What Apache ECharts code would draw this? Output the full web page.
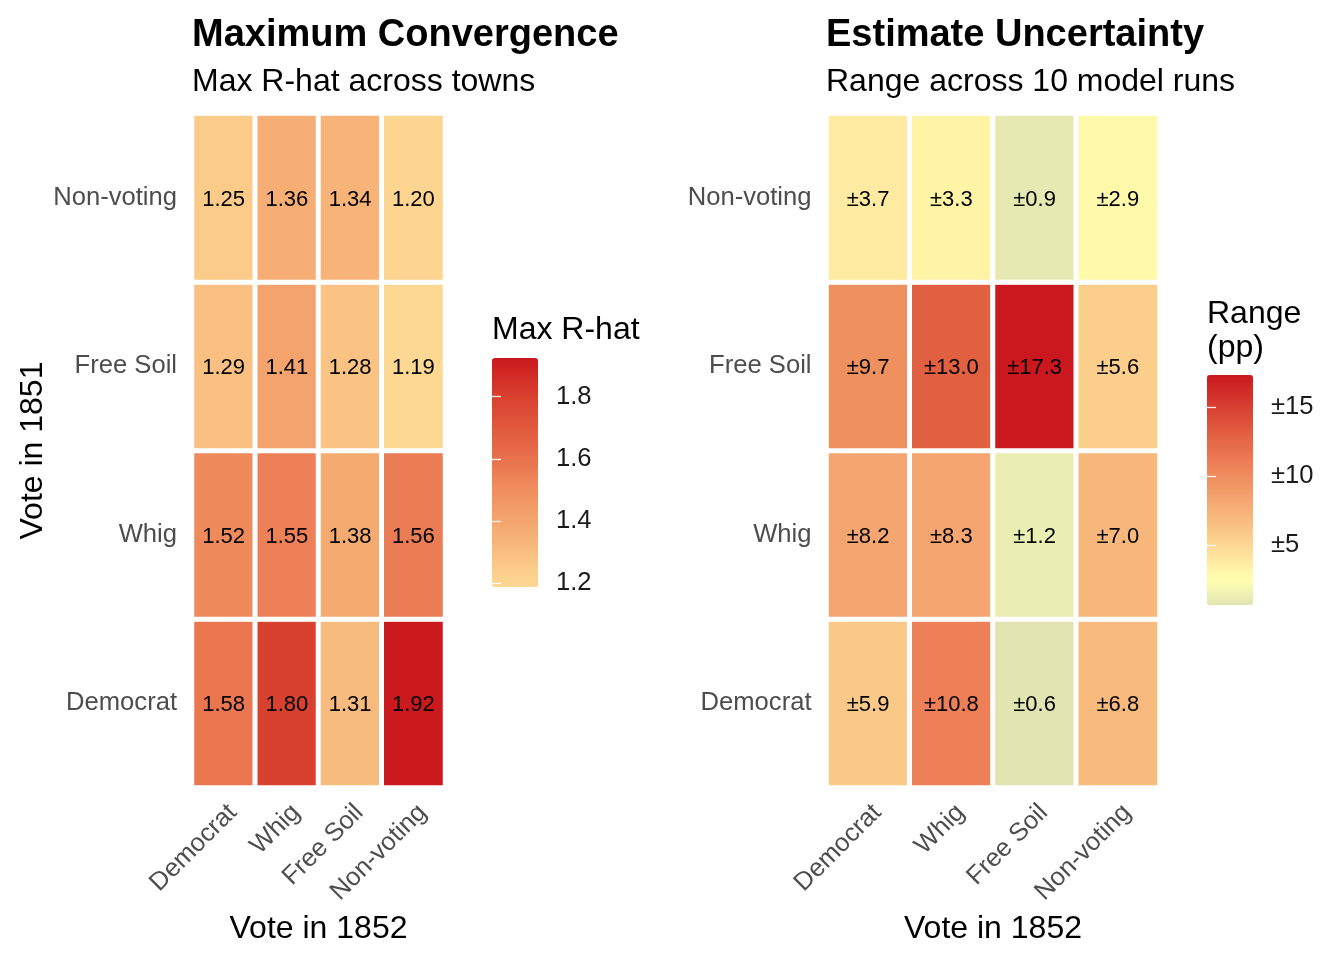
<!DOCTYPE html>
<html><head><meta charset="utf-8">
<script src="https://cdn.jsdelivr.net/npm/echarts@6/dist/echarts.min.js"></script>
<style>html,body{margin:0;padding:0;background:#fff}#c{width:1344px;height:960px}</style>
</head><body><div id="c"></div>
<script>
// ---- data ----
const cols1852 = ['Democrat', 'Whig', 'Free Soil', 'Non-voting'];
const rows1851 = ['Democrat', 'Whig', 'Free Soil', 'Non-voting'];
// Max R-hat, one array per 1851 row (columns follow cols1852)
const rhatDemocrat = [1.58, 1.80, 1.31, 1.92];
const rhatWhig = [1.52, 1.55, 1.38, 1.56];
const rhatFreeSoil = [1.29, 1.41, 1.28, 1.19];
const rhatNonVoting = [1.25, 1.36, 1.34, 1.20];
// Range across 10 model runs (pp)
const rangeDemocrat = [5.9, 10.8, 0.6, 6.8];
const rangeWhig = [8.2, 8.3, 1.2, 7.0];
const rangeFreeSoil = [9.7, 13.0, 17.3, 5.6];
const rangeNonVoting = [3.7, 3.3, 0.9, 2.9];
const rhatTicks = [1.2, 1.4, 1.6, 1.8];
const rangeTicks = [5, 10, 15];
const rhatLimits = [1.188, 1.924];
const rangeLimits = [0.64, 17.3];

const rhatRows = [rhatDemocrat, rhatWhig, rhatFreeSoil, rhatNonVoting];
const rangeRows = [rangeDemocrat, rangeWhig, rangeFreeSoil, rangeNonVoting];
function toCells(rows) {
  const out = [];
  rows.forEach((row, r) => row.forEach((v, c) => out.push([c, r, v])));
  return out;
}

// ---- colour ramps (style) ----
const leftAnchors = [[1.188,'#FDD893'],[1.25,'#FBCB8A'],[1.36,'#F6AE74'],[1.41,'#F3A36B'],[1.52,'#EF8A5C'],[1.58,'#EA764F'],[1.80,'#D9412F'],[1.924,'#CA191D']];
const rightAnchors = [[0.64,'#E2E5B1'],[1.2,'#EAEEB2'],[2.4,'#FFFEB0'],[2.9,'#FFFAAB'],[3.3,'#FFF3A6'],[3.7,'#FEEBA1'],[5.6,'#FCCE8B'],[5.9,'#FAC988'],[6.8,'#F9BA7D'],[8.2,'#F5A670'],[9.7,'#EF905F'],[10.8,'#EE8058'],[13.0,'#E26042'],[17.3,'#CA181E']];
function hex2rgb(h){return [parseInt(h.slice(1,3),16),parseInt(h.slice(3,5),16),parseInt(h.slice(5,7),16)];}
function ramp(anchors, lo, hi, n){
  const res=[];
  for(let i=0;i<n;i++){
    const v=lo+(hi-lo)*i/(n-1);
    let k=0; while(k<anchors.length-2 && v>anchors[k+1][0]) k++;
    const a=anchors[k], b=anchors[k+1];
    let t=(v-a[0])/(b[0]-a[0]); t=Math.max(0,Math.min(1,t));
    const ca=hex2rgb(a[1]), cb=hex2rgb(b[1]);
    const c=ca.map((x,j)=>Math.round(x+(cb[j]-x)*t));
    res.push('rgb('+c.join(',')+')');
  }
  return res;
}

const FF = '"Liberation Sans", Arial, Helvetica, sans-serif';
const chart = echarts.init(document.getElementById('c'), null, {renderer:'canvas'});

function catX(gi){
  return {
    gridIndex: gi, type: 'category', data: cols1852,
    axisLine:{show:false}, axisTick:{show:false}, splitLine:{show:false},
    axisLabel:{rotate:45, fontSize:25.6, color:'#4D4D4D', fontFamily:FF, margin:12, interval:0, verticalAlign:'top'},
    name:'Vote in 1852', nameLocation:'middle', nameGap:126,
    nameTextStyle:{fontSize:32, color:'#000', fontFamily:FF}
  };
}
function catY(gi, withName){
  const o = {
    gridIndex: gi, type: 'category', data: rows1851,
    axisLine:{show:false}, axisTick:{show:false}, splitLine:{show:false},
    axisLabel:{fontSize:25.6, color:'#4D4D4D', fontFamily:FF, margin:15, padding:[5,0,0,0]}
  };
  if (withName) Object.assign(o, {name:'Vote in 1851', nameLocation:'middle', nameRotate:90, nameGap:142,
    nameTextStyle:{fontSize:32, color:'#000', fontFamily:FF}});
  return o;
}
function legendY(gi, lim, ticks, pos, fmt){
  return {
    gridIndex: gi, type:'value', min: lim[0], max: lim[1], position: pos, z: 10,
    axisLine:{show:false}, splitLine:{show:false},
    axisTick:{show:true, inside:true, length:9, customValues: ticks, lineStyle:{color:'#fff', width:1.3, opacity:0.9}},
    axisLabel:{show: pos==='right', customValues: ticks, inside:false, margin:18, fontSize:25.6, color:'#1A1A1A', fontFamily:FF, formatter: fmt, padding:[4,0,0,0]}
  };
}
const T = (text, left, top, size, bold, extra) => Object.assign({text, left, top, padding:0,
  textStyle:Object.assign({fontSize:size, fontWeight: bold ? 'bold' : 'normal', color:'#000', fontFamily:FF}, extra || {})});

const option = {
  backgroundColor:'#fff',
  animation:false,
  title:[
    T('Maximum Convergence', 192, 17, 38, true),
    T('Max R-hat across towns', 192, 66, 32, false),
    T('Estimate Uncertainty', 826, 17, 38, true),
    T('Range across 10 model runs', 826, 66, 32, false),
    T('Max R-hat', 492, 314, 32, false),
    T('Range\n(pp)', 1207, 297, 32, false, {lineHeight:34})
  ],
  grid:[
    {left:192, top:113.5, width:253, height:674},
    {left:826.5, top:113.5, width:333, height:674},
    {left:492, top:358, width:46, height:229},
    {left:1207, top:375, width:46, height:230}
  ],
  xAxis:[
    catX(0), catX(1),
    {gridIndex:2, type:'value', show:false},
    {gridIndex:3, type:'value', show:false}
  ],
  yAxis:[
    catY(0, true), catY(1, false),
    legendY(2, rhatLimits, rhatTicks, 'right', v => v.toFixed(1)),
    legendY(2, rhatLimits, rhatTicks, 'left', v => v.toFixed(1)),
    legendY(3, rangeLimits, rangeTicks, 'right', v => '±' + v),
    legendY(3, rangeLimits, rangeTicks, 'left', v => '±' + v)
  ],
  visualMap:[
    {type:'continuous', seriesIndex:0, min:rhatLimits[0], max:rhatLimits[1], calculable:false, hoverLink:false,
     orient:'vertical', left:492, top:358, itemWidth:46, itemHeight:229, padding:0, textGap:0,
     inRange:{color: ramp(leftAnchors, rhatLimits[0], rhatLimits[1], 60)}},
    {type:'continuous', seriesIndex:1, min:rangeLimits[0], max:rangeLimits[1], calculable:false, hoverLink:false,
     orient:'vertical', left:1207, top:375, itemWidth:46, itemHeight:230, padding:0, textGap:0,
     inRange:{color: ramp(rightAnchors, rangeLimits[0], rangeLimits[1], 80)}}
  ],
  series:[
    {type:'heatmap', xAxisIndex:0, yAxisIndex:0, data: toCells(rhatRows),
     itemStyle:{borderColor:'#fff', borderWidth:5},
     label:{show:true, color:'#000', fontSize:22, fontFamily:FF, offset:[0,2], formatter: p => p.value[2].toFixed(2)},
     emphasis:{disabled:true}},
    {type:'heatmap', xAxisIndex:1, yAxisIndex:1, data: toCells(rangeRows),
     itemStyle:{borderColor:'#fff', borderWidth:5},
     label:{show:true, color:'#000', fontSize:22, fontFamily:FF, offset:[0,2], formatter: p => '±' + p.value[2].toFixed(1)},
     emphasis:{disabled:true}}
  ]
};
chart.setOption(option);
</script>
</body></html>
